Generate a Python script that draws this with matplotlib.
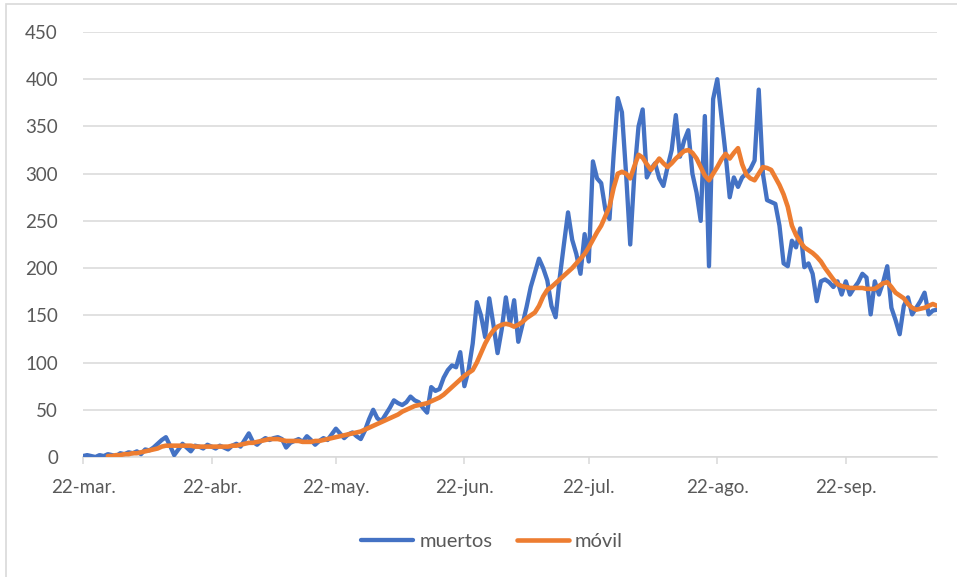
import pandas as pd
import numpy as np
import matplotlib
matplotlib.use('Agg')
import matplotlib.pyplot as plt
from matplotlib.patches import Rectangle

# daily values, starting 22-mar
start_date = '2020-03-22'
muertos = [
    1, 2, 1, 0, 2, 1, 3, 2, 1, 4,
    3, 5, 4, 6, 3, 8, 7, 10, 14, 18,
    21, 12, 2, 8, 14, 10, 6, 12, 11, 9,
    13, 11, 9, 12, 10, 8, 12, 14, 11, 18,
    25, 16, 13, 17, 20, 18, 20, 21, 19, 10,
    15, 17, 19, 16, 22, 18, 13, 17, 20, 18,
    24, 30, 25, 20, 24, 26, 22, 19, 28, 40,
    50, 41, 38, 45, 52, 60, 57, 55, 58, 64,
    60, 58, 52, 47, 74, 70, 72, 84, 92, 97,
    95, 111, 75, 92, 120, 164, 150, 127, 168, 140,
    110, 135, 169, 141, 166, 122, 140, 159, 180, 195,
    210, 200, 187, 160, 148, 190, 225, 259, 230, 215,
    194, 236, 207, 313, 295, 290, 262, 252, 320, 380,
    365, 300, 225, 300, 350, 368, 296, 305, 311, 295,
    287, 307, 325, 362, 318, 335, 346, 300, 280, 250,
    361, 202, 379, 400, 360, 321, 275, 296, 286, 296,
    300, 305, 314, 389, 300, 272, 270, 268, 245, 205,
    202, 229, 222, 242, 201, 205, 194, 165, 186, 188,
    185, 180, 186, 172, 186, 172, 179, 185, 194, 190,
    151, 186, 172, 185, 202, 158, 145, 130, 160, 169,
    151, 158, 165, 174, 151, 155, 156,
]
movil = [
    np.nan, np.nan, np.nan, np.nan, np.nan, np.nan, 1, 1, 2, 2,
    3, 3, 4, 4, 5, 6, 7, 8, 9, 11,
    12, 12, 12, 12, 12, 12, 12, 11, 11, 11,
    11, 11, 11, 11, 11, 11, 12, 12, 13, 14,
    15, 15, 16, 17, 18, 19, 19, 19, 18, 17,
    17, 17, 17, 16, 16, 16, 17, 17, 18, 19,
    20, 21, 22, 23, 24, 25, 26, 27, 29, 31,
    33, 35, 37, 39, 41, 43, 45, 48, 50, 52,
    54, 55, 56, 57, 59, 61, 63, 66, 70, 74,
    78, 82, 86, 89, 92, 100, 110, 120, 128, 134,
    138, 140, 141, 140, 138, 140, 143, 147, 150, 153,
    160, 170, 177, 180, 184, 188, 192, 196, 200, 205,
    210, 215, 222, 230, 238, 245, 255, 265, 285, 300,
    302, 300, 295, 308, 320, 317, 310, 304, 310, 316,
    311, 307, 311, 316, 320, 324, 325, 322, 316, 307,
    298, 293, 300, 307, 315, 321, 316, 322, 327, 310,
    299, 295, 293, 300, 307, 306, 304, 296, 288, 278,
    265, 245, 235, 228, 222, 219, 216, 212, 207, 200,
    194, 188, 183, 181, 180, 179, 179, 179, 179, 178,
    178, 178, 181, 184, 185, 180, 174, 171, 168, 162,
    158, 156, 157, 158, 160, 162, 160,
]
tick_dates = ['2020-03-22', '2020-04-22', '2020-05-22', '2020-06-22',
              '2020-07-22', '2020-08-22', '2020-09-22']
tick_labels = ['22-mar.', '22-abr.', '22-may.', '22-jun.', '22-jul.', '22-ago.', '22-sep.']
y_ticks = list(range(0, 451, 50))

dates = pd.date_range(start_date, periods=len(muertos), freq='D')

plt.rcParams['font.family'] = ['Lato', 'DejaVu Sans']

fig = plt.figure(figsize=(9.57, 5.77), dpi=100)
ax = fig.add_axes([83 / 957, 1 - 457 / 577, (937 - 83) / 957, (457 - 32) / 577])

# chart area frame (only top and left edges show)
fig.patches.append(Rectangle((6 / 957, -0.1), 1.2, 1.1 - 4 / 577, transform=fig.transFigure,
                             fill=False, edgecolor='#d9d9d9', linewidth=1.2))

ax.plot(dates, muertos, color='#4472C4', linewidth=3.1, solid_joinstyle='round',
        solid_capstyle='round', label='muertos', zorder=3)
ax.plot(dates, movil, color='#ED7D31', linewidth=3.3, solid_joinstyle='round',
        solid_capstyle='round', label='móvil', zorder=4)

ax.set_ylim(0, 450)
ax.set_xlim(dates[0], dates[-1])
ax.set_yticks(y_ticks)
ax.set_xticks(pd.to_datetime(tick_dates), tick_labels)

ax.grid(axis='y', color='#d9d9d9', linewidth=1.1)
ax.set_axisbelow(True)
for side in ['top', 'right', 'left']:
    ax.spines[side].set_visible(False)
ax.spines['bottom'].set_color('#d9d9d9')
ax.spines['bottom'].set_linewidth(1.1)

ax.tick_params(axis='y', length=0, pad=18, labelsize=13.5, labelcolor='#595959')
ax.tick_params(axis='x', length=5, width=1.1, color='#d9d9d9', pad=11,
               labelsize=13.5, labelcolor='#595959')

ax.legend(loc='center', bbox_to_anchor=(492 / 957, 1 - 541 / 577),
          bbox_transform=fig.transFigure, ncols=2, frameon=False,
          fontsize=14.5, labelcolor='#595959', handlelength=2.6,
          handletextpad=0.3, columnspacing=1.2)

fig.savefig('out.png', dpi=100)
